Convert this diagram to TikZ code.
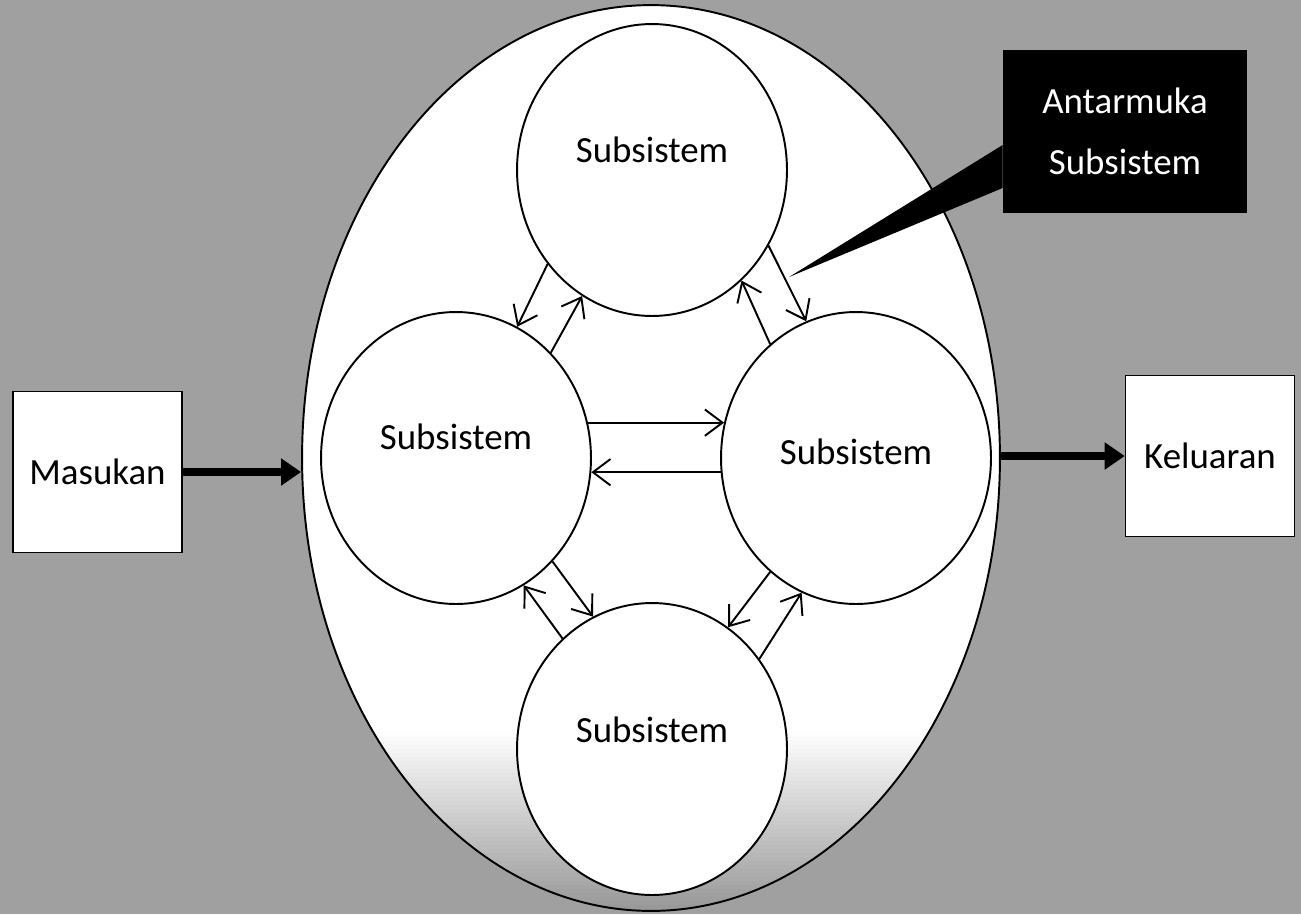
\documentclass[tikz,border=0pt]{standalone}
\usepackage{fontspec}
\setmainfont{Carlito}
\usetikzlibrary{shapes,arrows.meta,positioning}
\definecolor{bggray}{HTML}{A0A0A0}
\definecolor{shadegray}{HTML}{979797}
\newcommand{\subtext}[1]{\raisebox{#1}{Subsistem}}
% fading at the foot of the system
\newcommand{\bodyshade}{%
    \foreach \i in {0,...,45} {
        \pgfmathsetmacro{\p}{100-100*\i/45}
        \fill[white!\p!shadegray] ([yshift={(3.64-0.08*\i)*1cm}]path picture bounding box.south west)
            rectangle ([yshift={(3.54-0.08*\i)*1cm}]path picture bounding box.south east);
    }}

\begin{document}
\begin{tikzpicture}[x=0.02cm, y=-0.02cm,
        font=\fontsize{21}{35}\selectfont,
        sysbody/.style={ellipse, draw, line width=1.1pt, fill=white, inner sep=0pt,
            minimum width=13.96cm, minimum height=18.12cm, path picture={\bodyshade}},
        sub/.style={ellipse, draw, line width=1.1pt, fill=white, inner sep=0pt, minimum width=5.4cm, minimum height=5.84cm},
        box/.style={rectangle, draw, line width=0.9pt, fill=white, minimum width=3.38cm, minimum height=3.22cm},
        callout/.style={rectangle, fill=black, text=white, align=center, minimum width=4.88cm, minimum height=3.28cm},
        arrow/.style={-{Straight Barb[length=10pt, width=15pt]}, line width=1.1pt},
        bigarrow/.style={-{Triangle[length=0.4cm, width=0.52cm]}, line width=0.16cm}
    ]
        \useasboundingbox (0,0) rectangle (1301,914);
        \fill[bggray] (0,0) rectangle (1301,914);

        % system and its parts
        \node[sysbody] (system) at (651,458) {};
        \node[sub] (top) at (652,170) {\subtext{0.8cm}};
        \node[sub] (left) at (456,458) {\subtext{0.84cm}};
        \node[sub] (right) at (856,458) {\subtext{0.24cm}};
        \node[sub] (bottom) at (652,749) {\subtext{0.76cm}};

        % input and output
        \node[box] (masukan) at (97.5,472) {Masukan};
        \node[box] (keluaran) at (1210,456) {Keluaran};
        \draw[bigarrow] (masukan.east) -- (masukan.east -| system.west);
        \draw[bigarrow] (keluaran.west -| system.east) -- (keluaran.west);

        % interfaces
        \draw[arrow] (top.222) -- (left.65);
        \draw[arrow] (left.48) -- (top.241);
        \draw[arrow] (top.327) -- (right.110);
        \draw[arrow] (right.127) -- (top.309);
        \draw[arrow] (left.15) -- (right.165);
        \draw[arrow] (right.186) -- (left.-6);
        \draw[arrow] (left.313) -- (bottom.114);
        \draw[arrow] (bottom.129) -- (left.298);
        \draw[arrow] (right.233) -- (bottom.58);
        \draw[arrow] (bottom.40) -- (right.248);

        % callout
        \node[callout] (antarmuka) at (1125,131.5) {Antarmuka\\Subsistem};
        \coordinate (tip) at (789,277);
        \fill[black] ([yshift=-0.27cm]antarmuka.west) -- (tip) -- ([yshift=-1.13cm]antarmuka.west) -- cycle;
    \end{tikzpicture}
\end{document}
